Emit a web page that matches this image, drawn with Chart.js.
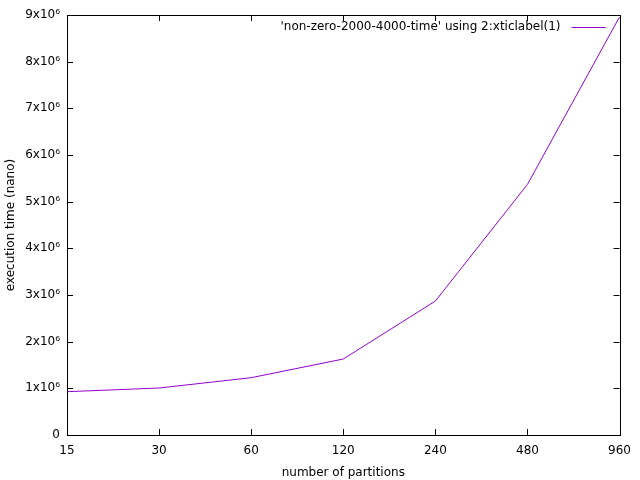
<!DOCTYPE html>
<html>
<head>
<meta charset="utf-8">
<script src="https://cdn.jsdelivr.net/npm/chart.js@4.4.0/dist/chart.umd.min.js"></script>
<style>
html, body { margin: 0; padding: 0; background: #fff; }
#wrap { width: 640px; height: 480px; }
</style>
</head>
<body>
<div id="wrap"><canvas id="lineChart" width="640" height="480"></canvas></div>
<script>
var partitions = ["15", "30", "60", "120", "240", "480", "960"];
var execTime = [928000, 1007000, 1228000, 1628000, 2870000, 5370000, 8960000];
var seriesLabel = "'non-zero-2000-4000-time' using 2:xticlabel(1)";
var yTicks = [0, 1e6, 2e6, 3e6, 4e6, 5e6, 6e6, 7e6, 8e6, 9e6];

Chart.defaults.font.family = "'DejaVu Sans', sans-serif";
Chart.defaults.font.size = 12;
Chart.defaults.color = "#000";

function fmtY(v) {
    if (v === 0) return "0";
    return (v / 1e6) + "x10\u2076";
}

// gnuplot style frame, inward ticks, and key (text then line sample)
var framePlugin = {
    id: 'frame',
    afterDatasetsDraw: function (chart) {
        var ctx = chart.ctx, a = chart.chartArea;
        var xs = chart.scales.x, ys = chart.scales.y;
        ctx.save();
        ctx.strokeStyle = "#000";
        ctx.lineWidth = 1;
        ctx.beginPath();
        xs.ticks.forEach(function (t, i) {
            var px = Math.round(xs.getPixelForTick(i)) + 0.5;
            ctx.moveTo(px, a.bottom); ctx.lineTo(px, a.bottom - 6);
            ctx.moveTo(px, a.top); ctx.lineTo(px, a.top + 6);
        });
        ys.ticks.forEach(function (t, i) {
            var py = Math.round(ys.getPixelForTick(i)) + 0.5;
            ctx.moveTo(a.left, py); ctx.lineTo(a.left + 6, py);
            ctx.moveTo(a.right, py); ctx.lineTo(a.right - 6, py);
        });
        ctx.stroke();
        ctx.strokeRect(Math.round(a.left) + 0.5, Math.round(a.top) + 0.5,
            Math.round(a.right - a.left), Math.round(a.bottom - a.top));

        // key
        var ds = chart.data.datasets[0];
        var ky = a.top + 12;
        ctx.font = "12px 'DejaVu Sans', sans-serif";
        ctx.fillStyle = "#000";
        ctx.textAlign = "right";
        ctx.textBaseline = "middle";
        ctx.fillText(ds.label, a.right - 59, ky);
        ctx.strokeStyle = ds.borderColor;
        ctx.beginPath();
        ctx.moveTo(a.right - 48, ky + 0.5);
        ctx.lineTo(a.right - 14, ky + 0.5);
        ctx.stroke();
        ctx.restore();
    }
};

var ctxL = document.getElementById("lineChart").getContext('2d');
var myLineChart = new Chart(ctxL, {
    type: 'line',
    data: {
        labels: partitions,
        datasets: [{
            label: seriesLabel,
            data: execTime,
            borderColor: "#9400d3",
            backgroundColor: "#9400d3",
            borderWidth: 1,
            pointRadius: 0,
            tension: 0,
            fill: false
        }]
    },
    options: {
        responsive: false,
        animation: false,
        layout: { padding: { top: 15, right: 20, left: 0, bottom: 0 } },
        plugins: {
            legend: { display: false },
            tooltip: { enabled: false }
        },
        scales: {
            x: {
                type: 'category',
                offset: false,
                grid: { display: false, drawTicks: false },
                border: { display: false },
                ticks: { autoSkip: false, maxRotation: 0, padding: 9 },
                title: { display: true, text: "number of partitions", padding: { top: 4, bottom: 0 } },
                afterFit: function (s) { s.height = 45; }
            },
            y: {
                min: 0,
                max: 9e6,
                grid: { display: false, drawTicks: false },
                border: { display: false },
                afterBuildTicks: function (s) {
                    s.ticks = yTicks.map(function (v) { return { value: v }; });
                },
                ticks: {
                    padding: 7,
                    callback: function (v) { return fmtY(v); }
                },
                title: { display: true, text: "execution time (nano)", padding: { top: 4, bottom: 0 } },
                afterFit: function (s) { s.width = 67; }
            }
        }
    },
    plugins: [framePlugin]
});
</script>
</body>
</html>
